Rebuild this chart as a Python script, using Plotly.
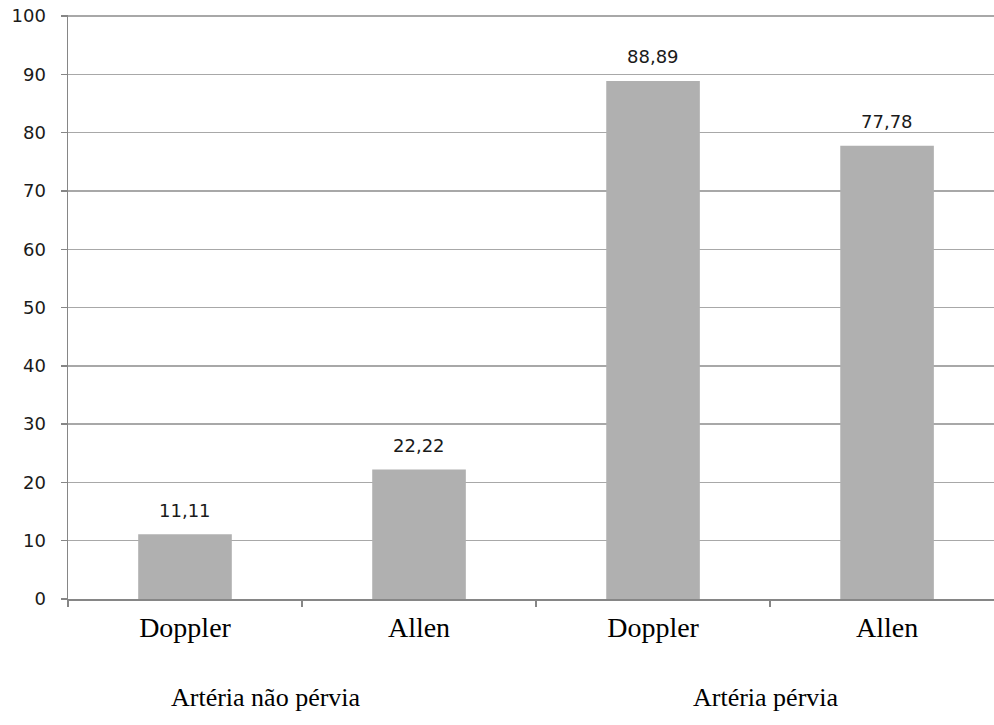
import plotly.graph_objects as go

categories = ["Doppler", "Allen", "Doppler", "Allen"]
values = [11.11, 22.22, 88.89, 77.78]
value_labels = ["11,11", "22,22", "88,89", "77,78"]
groups = ["Artéria não pérvia", "Artéria pérvia"]
y_ticks = [0, 10, 20, 30, 40, 50, 60, 70, 80, 90, 100]

xs = list(range(len(categories)))

fig = go.Figure()
fig.add_trace(go.Bar(
    x=xs, y=values, width=0.4,
    marker=dict(color="#b0b0b0", line=dict(width=0)),
    hoverinfo="skip",
))

for x, v, t in zip(xs, values, value_labels):
    fig.add_annotation(x=x, y=v, text=t, showarrow=False, yanchor="middle",
                       yshift=24, font=dict(family="DejaVu Sans", size=18, color="#1a1a1a"))

group_x = [0.2138, 0.7538]
for gx, g in zip(group_x, groups):
    fig.add_annotation(x=gx, y=-0.168, xref="paper", yref="paper", text=g,
                       showarrow=False, xanchor="center", yanchor="middle",
                       font=dict(family="Liberation Serif", size=26, color="#000000"))

fig.update_layout(
    width=994, height=725,
    margin=dict(l=68, r=0, t=15, b=126, autoexpand=False),
    paper_bgcolor="white", plot_bgcolor="white",
    showlegend=False,
    xaxis=dict(
        range=[-0.5, 3.457],
        automargin=False,
        tickmode="array", tickvals=xs, ticktext=categories,
        ticks="", showgrid=False, zeroline=False,
        showline=True, linecolor="#868686", linewidth=1.5,
        tickfont=dict(family="Liberation Serif", size=28, color="#000000"),
        ticklabelstandoff=3,
        minor=dict(tickmode="array", tickvals=[-0.5, 0.5, 1.5, 2.5, 3.5],
                   ticks="outside", ticklen=6, tickcolor="#868686", tickwidth=1.5,
                   showgrid=False),
        fixedrange=True,
    ),
    yaxis=dict(
        range=[0, 100.2],
        automargin=False,
        ticklabeloverflow="allow",
        tickmode="array", tickvals=y_ticks,
        ticks="outside", ticklen=6, tickcolor="#868686", tickwidth=1.5,
        showgrid=True, gridcolor="#a8a8a8", gridwidth=1.5,
        zeroline=False,
        showline=True, linecolor="#868686", linewidth=1.5,
        tickfont=dict(family="DejaVu Sans", size=18, color="#1a1a1a"),
        ticklabelstandoff=11,
        fixedrange=True,
    ),
)

fig.write_html(
    "out.html",
    config={"displayModeBar": False, "staticPlot": True},
    post_script="document.body.style.margin='0px';document.body.style.overflow='hidden';",
)
